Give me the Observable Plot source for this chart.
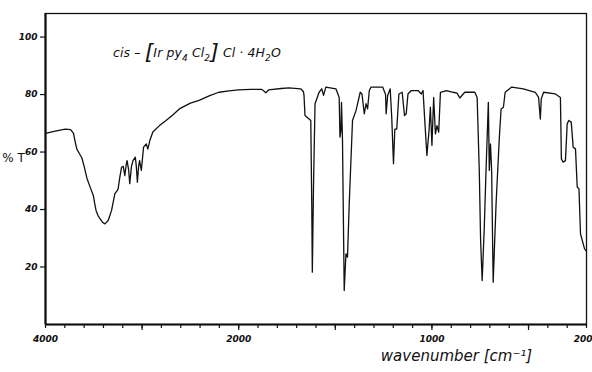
<!DOCTYPE html>
<html>
<head>
<meta charset="utf-8">
<script src="https://cdn.jsdelivr.net/npm/d3@7"></script>
<script src="https://cdn.jsdelivr.net/npm/@observablehq/plot@0.6"></script>
<style>
  html, body { margin: 0; padding: 0; background: #fff; }
  #chart svg { display: block; }
</style>
</head>
<body>
<div id="chart"></div>
<script>
// Wavenumber (cm^-1) and transmittance (%T)
const wavenumber = [
  4000, 3900, 3795, 3740, 3710, 3692, 3675, 3650, 3624, 3600, 3572, 3538, 3505, 3490, 3477, 3455, 3436, 3410, 3385, 3351,
  3316, 3282, 3260, 3248, 3231, 3213, 3195, 3179, 3165, 3156, 3140, 3128, 3110, 3094, 3070, 3060, 3049, 3036, 3026, 3008,
  2985, 2957, 2941, 2920, 2889, 2820, 2752, 2680, 2615, 2500, 2410, 2300, 2205, 2100, 2000, 1940, 1880, 1860, 1845, 1780,
  1740, 1679, 1665, 1662, 1657, 1636, 1627, 1622, 1619, 1613, 1605, 1584, 1570, 1561, 1549, 1497, 1480, 1476, 1471, 1468,
  1463, 1454, 1445, 1437, 1428, 1411, 1393, 1371, 1362, 1350, 1341, 1333, 1324, 1315, 1255, 1240, 1237, 1229, 1216, 1208,
  1199, 1192, 1182, 1171, 1154, 1142, 1133, 1124, 1107, 1072, 1055, 1046, 1038, 1026, 1015, 1008, 1000, 991, 982, 974,
  965, 956, 925, 890, 870, 856, 830, 778, 766, 755, 748, 740, 729, 720, 708, 703, 697, 691, 683, 668,
  651, 642, 630, 621, 587, 527, 465, 448, 439, 434, 422, 361, 335, 330, 321, 309, 300, 292, 279, 269,
  257, 248, 239, 231, 210, 200
];
const transmittance = [
  66.5, 67.3, 68, 67.8, 66.5, 63.4, 61, 59.5, 58, 55, 51, 47.8, 44.9, 42, 39.7, 37.8, 36.8, 35.6, 35, 36.2,
  39.7, 45.5, 46.5, 47.2, 51.2, 54.7, 55, 51.8, 55.5, 57, 54, 49, 55, 57, 58.2, 55, 49.5, 55, 57, 53.6,
  61.7, 62.8, 61, 64, 67, 69.2, 71, 73, 75, 77, 78, 79.6, 80.8, 81.3, 81.6, 81.8, 81.8, 80.6, 81.6, 82.1,
  82.3, 82, 81, 79.7, 72.7, 71.5, 71, 42, 18.2, 47.8, 76.8, 80.8, 82, 79.7, 82.6, 82, 79, 65.2, 67.5, 77.3,
  64.6, 11.8, 24.6, 23.4, 42, 71, 74.4, 80.8, 80.2, 73.3, 76.8, 75, 81.4, 82.6, 82.6, 80, 73.3, 79.7, 82, 72,
  55.9, 68, 68, 80.2, 80.8, 72.7, 73.3, 80.2, 81.4, 81.4, 80.2, 81.4, 72, 58.8, 67.5, 75.6, 62.3, 79, 66.3, 69.2,
  66.9, 80.8, 81.4, 80.8, 80.5, 78.8, 80.8, 80.8, 79, 53.6, 29.2, 15.3, 33.8, 53.6, 77.3, 53.6, 62.8, 53.6, 14.7, 42,
  65.2, 75, 75.6, 80.8, 82.6, 82, 80.8, 79, 71.5, 78.5, 80.8, 80.2, 79, 57.6, 56.5, 57, 69.8, 71, 70.4, 61.7,
  61.1, 47.8, 47.2, 31.5, 26.3, 25.5
];

// Axis ticks (the wavenumber scale is compressed 2x above 2000 cm^-1)
const xTicks = [
  4000, 3800, 3600, 3400, 3200, 3000, 2800, 2600, 2400, 2200, 2000,
  1900, 1800, 1700, 1600, 1500, 1400, 1300, 1200, 1100, 1000,
  900, 800, 700, 600, 500, 400, 300, 200
];
const xMajorTicks = [3000, 2000, 1500, 1000, 500];
const xTickLabels = [4000, 2000, 1000];
const xEndLabel = [200];
const yTicks = [20, 40, 60, 80, 100];

// scale change at 2000 cm^-1: half the spacing above it
const compress = (w) => (w > 2000 ? 2000 + (w - 2000) / 2 : w);
const expand = (u) => (u > 2000 ? 2000 + (u - 2000) * 2 : u);

const data = wavenumber.map((w, i) => ({w, t: transmittance[i]}));

const font = "DejaVu Sans";
const tickText = {tickSize: 0, tickPadding: 11, fontSize: 9, fontStyle: "italic", fontWeight: "bold", label: null,
  tickFormat: (u) => String(Math.round(expand(u)))};

const chart = Plot.plot({
  width: 592,
  height: 372,
  marginLeft: 45,
  marginRight: 6,
  marginTop: 13,
  marginBottom: 48,
  style: {fontFamily: font, background: "#fff", color: "#111"},
  x: {domain: [compress(4000), compress(200)]},
  y: {domain: [0, 108.2]},
  marks: [
    Plot.frame({stroke: "#111", strokeWidth: 1.3}),
    Plot.axisX({ticks: xTicks.map(compress), tickFormat: () => "", tickSize: 4, strokeWidth: 1.2, label: null}),
    Plot.axisX({ticks: xMajorTicks.map(compress), tickFormat: () => "", tickSize: 6, strokeWidth: 1.2, label: null}),
    Plot.axisX({ticks: xTickLabels.map(compress), ...tickText}),
    Plot.axisX({ticks: xEndLabel.map(compress), ...tickText, textAnchor: "end", dx: 6}),
    Plot.axisY({ticks: yTicks, tickSize: 5, tickPadding: 3, strokeWidth: 1.2, fontSize: 9, fontStyle: "italic", fontWeight: "bold", label: null}),
    Plot.ruleX([compress(4000)], {stroke: "#111", strokeWidth: 2.2}),
    Plot.ruleY([0], {stroke: "#111", strokeWidth: 2.2}),
    Plot.line(data, {x: (d) => compress(d.w), y: "t", stroke: "#111", strokeWidth: 1.3, strokeLinejoin: "round"}),
    Plot.text(["% T"], {frameAnchor: "left", dx: -32, dy: -11, fontSize: 12, textAnchor: "middle", fill: "#111"}),
    Plot.text(["wavenumber [cm⁻¹]"], {frameAnchor: "bottom-right", dx: -130, dy: 36, fontSize: 15, fontStyle: "italic", textAnchor: "middle", fill: "#111", letterSpacing: 0.6})
  ]
});

document.getElementById("chart").appendChild(chart);

// Compound title with subscripts and large brackets
const svg = d3.select(chart);
const title = svg.append("text")
  .attr("x", 113).attr("y", 57)
  .attr("text-anchor", "start")
  .attr("font-family", font).attr("font-style", "italic")
  .attr("font-size", 12.5).attr("letter-spacing", 0.1).attr("fill", "#111");
const parts = [
  ["cis – ", 12.5, 0],
  ["[", 22, 2],
  ["Ir py", 12.5, -2],
  ["4", 9, 4],
  [" Cl", 12.5, -4],
  ["2", 9, 4],
  ["]", 22, -2],
  [" Cl · 4H", 12.5, -2],
  ["2", 9, 4],
  ["O", 12.5, -4]
];
parts.forEach(([s, size, dy]) => {
  title.append("tspan").attr("font-size", size).attr("dy", dy).text(s);
});
</script>
</body>
</html>
